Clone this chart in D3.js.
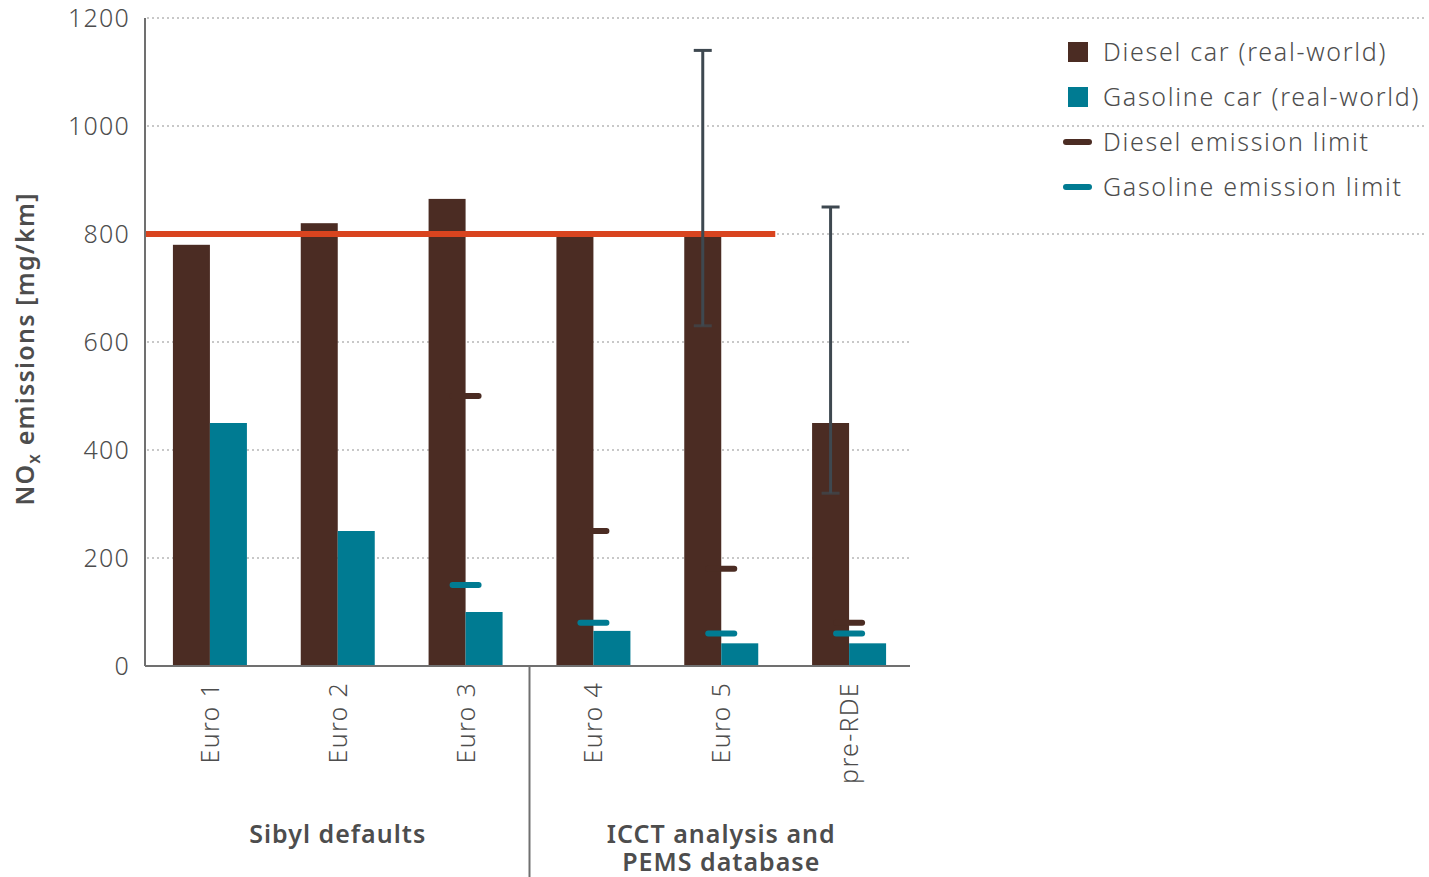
<!DOCTYPE html>
<html>
<head>
<meta charset="utf-8">
<script src="https://cdn.jsdelivr.net/npm/d3@7"></script>
<style>
  html, body { margin: 0; padding: 0; background: #fff; }
  svg { display: block; font-family: "Noto Sans", "Open Sans", sans-serif; }
</style>
</head>
<body>
<svg id="chart" width="1429" height="877"></svg>
<script>
// Vehicle standards and measured / regulated NOx values (mg/km)
const categories = ["Euro 1", "Euro 2", "Euro 3", "Euro 4", "Euro 5", "pre-RDE"];
const dieselReal = [780, 820, 865, 800, 800, 450];
const gasolineReal = [450, 250, 100, 65, 42, 42];
const dieselLimit = [null, null, 500, 250, 180, 80];
const gasolineLimit = [null, null, 150, 80, 60, 60];
// Spread of diesel measurements: [low, high], where available
const dieselRange = [null, null, null, null, [630, 1140], [320, 850]];
const yTicks = [0, 200, 400, 600, 800, 1000, 1200];
const thresholdValue = 800;
const groups = [
  { label: ["Sibyl defaults"], from: "Euro 1", to: "Euro 3" },
  { label: ["ICCT analysis and", "PEMS database"], from: "Euro 4", to: "pre-RDE" }
];
const legendItems = [
  { label: "Diesel car (real-world)", type: "box", color: "#4b2c23" },
  { label: "Gasoline car (real-world)", type: "box", color: "#007b92" },
  { label: "Diesel emission limit", type: "dash", color: "#4b2c23" },
  { label: "Gasoline emission limit", type: "dash", color: "#007b92" }
];

const C = {
  diesel: "#4b2c23", gasoline: "#007b92", red: "#d9441f",
  err: "#3e4850", axis: "#707070", grid: "#c8c8c8", text: "#4d4d4d"
};

const svg = d3.select("#chart");
const M = { left: 145, right: 910, top: 18, bottom: 666 };

const x = d3.scaleBand().domain(categories).range([146, 913]).paddingInner(0).paddingOuter(0);
const y = d3.scaleLinear().domain([0, 1200]).range([M.bottom, M.top]);
const barW = 37;

// Gridlines: upper ones run across the legend area as well
svg.append("g").selectAll("line").data(yTicks.filter(d => d > 0)).join("line")
  .attr("x1", M.left + 2)
  .attr("x2", d => d >= 800 ? 1426 : M.right)
  .attr("y1", d => y(d)).attr("y2", d => y(d))
  .attr("stroke", C.grid).attr("stroke-width", 2).attr("stroke-dasharray", "2,3");

// Y axis tick labels
const yAxis = d3.axisLeft(y).tickValues(yTicks).tickFormat(d3.format("d")).tickSize(0).tickPadding(15);
const yg = svg.append("g").attr("transform", `translate(${M.left},0)`).call(yAxis);
yg.select(".domain").remove();
yg.selectAll("text").attr("font-size", 25).attr("fill", C.text)
  .attr("font-family", "'Noto Sans', sans-serif").attr("font-weight", 300)
  .attr("letter-spacing", 1.2);

// Bars
const bars = svg.append("g");
categories.forEach((c, i) => {
  const cx = x(c) + x.bandwidth() / 2;
  bars.append("rect").attr("x", cx - barW).attr("width", barW)
    .attr("y", y(dieselReal[i])).attr("height", y(0) - y(dieselReal[i])).attr("fill", C.diesel);
  bars.append("rect").attr("x", cx).attr("width", barW)
    .attr("y", y(gasolineReal[i])).attr("height", y(0) - y(gasolineReal[i])).attr("fill", C.gasoline);
});

// Threshold line at 800 mg/km
svg.append("line")
  .attr("x1", M.left).attr("x2", x("Euro 5") + x.bandwidth() / 2 + 54)
  .attr("y1", y(thresholdValue)).attr("y2", y(thresholdValue))
  .attr("stroke", C.red).attr("stroke-width", 6);

// Emission limit dashes
const limits = svg.append("g");
function drawLimits(vals, color) {
  vals.forEach((v, i) => {
    if (v == null) return;
    const cx = x(categories[i]) + x.bandwidth() / 2;
    limits.append("line").attr("x1", cx - 13).attr("x2", cx + 13)
      .attr("y1", y(v)).attr("y2", y(v))
      .attr("stroke", color).attr("stroke-width", 6).attr("stroke-linecap", "round");
  });
}
drawLimits(dieselLimit, C.diesel);
drawLimits(gasolineLimit, C.gasoline);

// Diesel spread bars
const err = svg.append("g").attr("stroke", C.err).attr("stroke-width", 3);
dieselRange.forEach((r, i) => {
  if (!r) return;
  const cx = x(categories[i]) + x.bandwidth() / 2 - barW / 2;
  err.append("line").attr("x1", cx).attr("x2", cx).attr("y1", y(r[0])).attr("y2", y(r[1]));
  err.append("line").attr("x1", cx - 9).attr("x2", cx + 9).attr("y1", y(r[1])).attr("y2", y(r[1]));
  err.append("line").attr("x1", cx - 9).attr("x2", cx + 9).attr("y1", y(r[0])).attr("y2", y(r[0]))
    .attr("stroke-opacity", 0.7);
});

// Axis lines
svg.append("line").attr("x1", M.left).attr("x2", M.left).attr("y1", M.top).attr("y2", M.bottom)
  .attr("stroke", C.axis).attr("stroke-width", 2);
svg.append("line").attr("x1", M.left).attr("x2", M.right).attr("y1", M.bottom).attr("y2", M.bottom)
  .attr("stroke", C.axis).attr("stroke-width", 2);

// Category labels (rotated)
svg.append("g").selectAll("text").data(categories).join("text")
  .attr("transform", d => `translate(${x(d) + x.bandwidth() / 2 + 9},${M.bottom + 16}) rotate(-90)`)
  .attr("text-anchor", "end").attr("font-size", 25).attr("font-weight", 300)
  .attr("letter-spacing", 1.3).attr("fill", C.text).text(d => d);

// Group separator and group labels
const sepX = x("Euro 4");
svg.append("line").attr("x1", sepX).attr("x2", sepX).attr("y1", M.bottom).attr("y2", 877)
  .attr("stroke", C.axis).attr("stroke-width", 2);
groups.forEach(g => {
  const cx = (x(g.from) + x(g.to) + x.bandwidth()) / 2;
  const t = svg.append("text").attr("x", cx).attr("y", 843).attr("text-anchor", "middle")
    .attr("font-size", 25).attr("font-weight", 600).attr("letter-spacing", 1)
    .attr("fill", C.text);
  g.label.forEach((l, k) => t.append("tspan").attr("x", cx).attr("dy", k ? 28 : 0).text(l));
});

// Y axis title with subscript
const yt = svg.append("text")
  .attr("transform", `translate(34,${(M.top + M.bottom) / 2 + 7}) rotate(-90)`)
  .attr("text-anchor", "middle").attr("font-size", 25).attr("font-weight", 600)
  .attr("letter-spacing", 1.2).attr("fill", C.text);
yt.append("tspan").text("NO");
yt.append("tspan").attr("font-size", 17).attr("dy", 6).text("x");
yt.append("tspan").attr("dy", -6).text(" emissions [mg/km]");

// Legend
const lg = svg.append("g").attr("transform", "translate(1064,52)");
legendItems.forEach((it, i) => {
  const g = lg.append("g").attr("transform", `translate(0,${i * 45})`);
  if (it.type === "box") {
    g.append("rect").attr("x", 4).attr("y", -10).attr("width", 20).attr("height", 20).attr("fill", it.color);
  } else {
    g.append("line").attr("x1", 2).attr("x2", 25).attr("y1", 0).attr("y2", 0)
      .attr("stroke", it.color).attr("stroke-width", 6).attr("stroke-linecap", "round");
  }
  g.append("text").attr("x", 39).attr("y", 0).attr("dy", "0.35em")
    .attr("font-size", 25).attr("font-weight", 300).attr("letter-spacing", 1.7)
    .attr("fill", C.text).text(it.label);
});
</script>
</body>
</html>
